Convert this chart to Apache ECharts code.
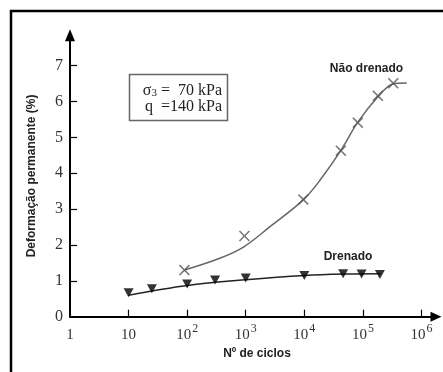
<!DOCTYPE html>
<html><head><meta charset="utf-8">
<script src="https://cdn.jsdelivr.net/npm/echarts@6/dist/echarts.min.js"></script>
<style>html,body{margin:0;padding:0;background:#fff}#c{width:443px;height:372px}</style>
</head><body><div id="c"></div>
<script>
// ---- data ----
const xTickValues = [1, 10, 100, 1000, 10000, 100000, 1000000];
const yTickValues = [0, 1, 2, 3, 4, 5, 6, 7];
// Não drenado (undrained) measured points
const naoDrenadoCycles = [90, 950, 9600, 42000, 82000, 180000, 330000];
const naoDrenadoStrain = [1.30, 2.25, 3.27, 4.63, 5.41, 6.16, 6.51];
// Não drenado fitted curve
const naoDrenadoFitCycles = [90, 360, 930, 2600, 9500, 18600, 42700, 81300, 182000, 324000, 560000];
const naoDrenadoFitStrain = [1.30, 1.63, 1.95, 2.51, 3.25, 3.81, 4.65, 5.42, 6.14, 6.49, 6.52];
// Drenado (drained) measured points
const drenadoCycles = [10, 25, 100, 300, 1000, 10000, 46000, 95000, 195000];
const drenadoStrain = [0.67, 0.78, 0.91, 1.02, 1.08, 1.15, 1.20, 1.19, 1.18];
// Drenado fitted line
const drenadoFitCycles = [10, 100, 1000, 10000, 50000, 200000];
const drenadoFitStrain = [0.60, 0.87, 1.03, 1.15, 1.19, 1.20];

const zip = (a, b) => a.map((v, i) => [v, b[i]]);
const serif = '"Liberation Serif","DejaVu Serif",serif';
const sans = '"Liberation Sans",Arial,sans-serif';
const crossPath = 'path://M0,1L1,0L5,4L9,0L10,1L6,5L10,9L9,10L5,6L1,10L0,9L4,5Z';

const chart = echarts.init(document.getElementById('c'), null, {renderer: 'canvas'});
chart.setOption({
  animation: false,
  backgroundColor: '#fff',
  grid: {left: 70, right: 7, top: 35.2, bottom: 55.3, containLabel: false, outerBoundsMode: 'none'},
  xAxis: {
    type: 'log', logBase: 10, min: 1, max: 1.77e6,
    name: 'Nº de ciclos', nameLocation: 'middle', nameGap: 30,
    nameTextStyle: {fontFamily: sans, fontWeight: 'bold', fontSize: 12, color: '#222', padding: [0, 0, 0, 8]},
    axisLine: {lineStyle: {color: '#000', width: 2}, symbol: ['none', 'triangle'], symbolSize: [10, 11]},
    axisTick: {inside: true, length: 7, lineStyle: {color: '#000', width: 1.2}, customValues: xTickValues.slice(1)},
    axisLabel: {
      customValues: xTickValues, margin: 6,
      formatter: function (v) {
        const n = Math.round(Math.log10(v));
        if (n === 0) return '{b|1}';
        if (n === 1) return '{b|10}';
        return '{b|10}{s|' + n + '}';
      },
      rich: {
        b: {fontFamily: serif, fontSize: 15, lineHeight: 20, color: '#333', verticalAlign: 'bottom'},
        s: {fontFamily: serif, fontSize: 12, lineHeight: 12, color: '#333', padding: [0, 0, 8, 1], verticalAlign: 'bottom'}
      }
    },
    splitLine: {show: false}
  },
  yAxis: {
    type: 'value', min: 0, max: 7.85,
    name: 'Deformação permanente (%)', nameLocation: 'middle', nameGap: 32,
    nameTextStyle: {fontFamily: sans, fontWeight: 'bold', fontSize: 12, color: '#222'},
    axisLine: {lineStyle: {color: '#000', width: 2}, symbol: ['none', 'triangle'], symbolSize: [10, 12]},
    axisTick: {inside: true, length: 7, lineStyle: {color: '#000', width: 1.2}, customValues: yTickValues.slice(1)},
    axisLabel: {customValues: yTickValues, margin: 7, fontFamily: serif, fontSize: 16, color: '#333'},
    splitLine: {show: false}
  },
  series: [
    {type: 'line', data: zip(naoDrenadoFitCycles, naoDrenadoFitStrain), smooth: 0.35, showSymbol: false,
     lineStyle: {color: '#666', width: 1.5}, z: 2},
    {type: 'line', data: zip(drenadoFitCycles, drenadoFitStrain), smooth: 0.35, showSymbol: false,
     lineStyle: {color: '#222', width: 1.5}, z: 2},
    {type: 'scatter', data: zip(naoDrenadoCycles, naoDrenadoStrain), symbol: crossPath, symbolSize: 11,
     itemStyle: {color: '#555'}, z: 3},
    {type: 'scatter', data: zip(drenadoCycles, drenadoStrain), symbol: 'triangle', symbolRotate: 180, symbolSize: [10, 9],
     itemStyle: {color: '#000'}, z: 3}
  ],
  graphic: [
    {type: 'rect', shape: {x: 11, y: 11, width: 460, height: 400}, style: {fill: 'none', stroke: '#000', lineWidth: 2.5}, silent: true},
    {type: 'rect', shape: {x: 129.5, y: 74.5, width: 98, height: 46}, style: {fill: '#fff', stroke: '#666', lineWidth: 1.5}, z: 10},
    {type: 'text', x: 222, y: 82, z: 11, style: {
      text: '{t|σ}{u|3}{t| =  70 kPa}', align: 'right',
      rich: {
        t: {fontFamily: serif, fontSize: 16, lineHeight: 17, fill: '#222', verticalAlign: 'bottom'},
        u: {fontFamily: serif, fontSize: 11, lineHeight: 11, fill: '#222', padding: [6, 0, 0, 0], verticalAlign: 'bottom'}
      }}},
    {type: 'text', x: 222, y: 99, z: 11, style: {
      text: 'q  =140 kPa', align: 'right', font: '16px ' + serif, fill: '#222'}},
    {type: 'text', x: 366.5, y: 69, style: {text: 'Não drenado', align: 'center', verticalAlign: 'middle',
      font: 'bold 12px ' + sans, fill: '#222'}},
    {type: 'text', x: 348, y: 257, style: {text: 'Drenado', align: 'center', verticalAlign: 'middle',
      font: 'bold 12px ' + sans, fill: '#222'}}
  ]
});
</script></body></html>
